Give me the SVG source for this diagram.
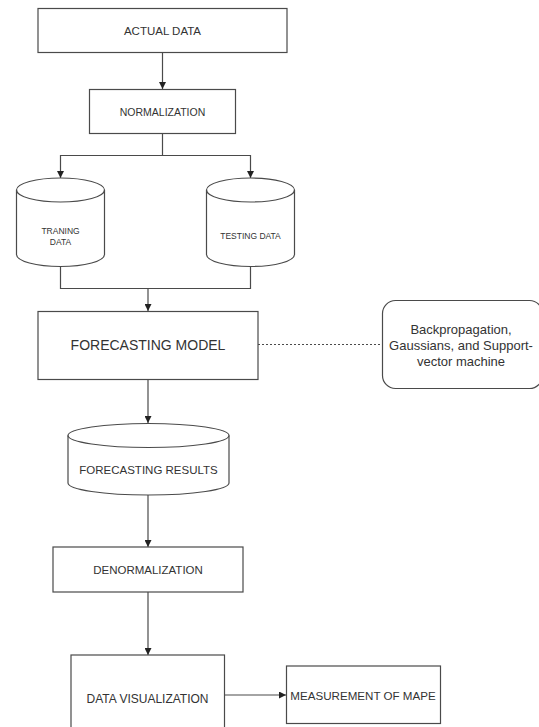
<svg xmlns="http://www.w3.org/2000/svg" width="539" height="727" viewBox="0 0 539 727">
<style>
.box{fill:#fff;stroke:#4a4a4a;stroke-width:1.2}
.ln{fill:none;stroke:#4a4a4a;stroke-width:1.2}
.t{font-family:"Liberation Sans",Arial,sans-serif;fill:#333;text-anchor:middle;dominant-baseline:central}
</style>
<defs>
<marker id="ar" viewBox="0 0 10 10" refX="10" refY="5" markerWidth="7" markerHeight="7" markerUnits="userSpaceOnUse" orient="auto">
<path d="M0,0 L10,5 L0,10 z" fill="#222"/>
</marker>
</defs>
<rect width="539" height="727" fill="#fff"/>
<g id="connectors">
<path class="ln" d="M162.5,53 V89" marker-end="url(#ar)"/>
<path class="ln" d="M162.5,134 V155.5 H60.5 V178" marker-end="url(#ar)"/>
<path class="ln" d="M162.5,155.5 H250.5 V178" marker-end="url(#ar)"/>
<path class="ln" d="M60.5,266 V288.5 H250.5 V266"/>
<path class="ln" d="M148,288.5 V311" marker-end="url(#ar)"/>
<path class="ln" d="M258,344.5 H382" stroke-dasharray="2,2"/>
<path class="ln" d="M148,380 V423" marker-end="url(#ar)"/>
<path class="ln" d="M148,495 V547" marker-end="url(#ar)"/>
<path class="ln" d="M148,592 V655" marker-end="url(#ar)"/>
<path class="ln" d="M224.5,695 H286" marker-end="url(#ar)"/>
</g>
<g id="actual-data">
<rect class="box" x="38" y="8.5" width="249" height="44"/>
<text class="t" x="162.5" y="30.5" font-size="11.5">ACTUAL DATA</text>
</g>
<g id="normalization">
<rect class="box" x="89.5" y="89.5" width="146" height="44"/>
<text class="t" x="162.5" y="111.5" font-size="10.5">NORMALIZATION</text>
</g>
<g id="training-data">
<path class="box" d="M16.5,190 A44,12 0 0 1 104.5,190 V254.5 A44,12 0 0 1 16.5,254.5 Z"/>
<path class="ln" d="M16.5,190 A44,12 0 0 0 104.5,190"/>
<text class="t" x="60.5" y="231" font-size="8.5">TRANING</text>
<text class="t" x="60.5" y="242" font-size="8.5">DATA</text>
</g>
<g id="testing-data">
<path class="box" d="M206.5,190 A44,12 0 0 1 294.5,190 V254.5 A44,12 0 0 1 206.5,254.5 Z"/>
<path class="ln" d="M206.5,190 A44,12 0 0 0 294.5,190"/>
<text class="t" x="250.5" y="236" font-size="8.5">TESTING DATA</text>
</g>
<g id="forecasting-model">
<rect class="box" x="38" y="311.5" width="220" height="68"/>
<text class="t" x="148" y="345" font-size="14">FORECASTING MODEL</text>
</g>
<g id="methods">
<rect class="box" x="382.5" y="300.5" width="160" height="88" rx="13"/>
<text class="t" x="461" y="329" font-size="13">Backpropagation,</text>
<text class="t" x="461" y="345" font-size="13">Gaussians, and Support-</text>
<text class="t" x="461" y="361" font-size="13">vector machine</text>
</g>
<g id="forecasting-results">
<path class="box" d="M68,435.5 A80.5,12 0 0 1 229,435.5 V483 A80.5,12 0 0 1 68,483 Z"/>
<path class="ln" d="M68,435.5 A80.5,12 0 0 0 229,435.5"/>
<text class="t" x="148.5" y="470" font-size="11.5">FORECASTING RESULTS</text>
</g>
<g id="denormalization">
<rect class="box" x="53" y="547" width="190" height="45"/>
<text class="t" x="148" y="570" font-size="11.5">DENORMALIZATION</text>
</g>
<g id="data-visualization">
<rect class="box" x="71" y="655" width="153.5" height="80"/>
<text class="t" x="147.5" y="699" font-size="12">DATA VISUALIZATION</text>
</g>
<g id="mape">
<rect class="box" x="286.5" y="666" width="154" height="57.5"/>
<text class="t" x="363" y="695" font-size="11.6">MEASUREMENT OF MAPE</text>
</g>
</svg>
